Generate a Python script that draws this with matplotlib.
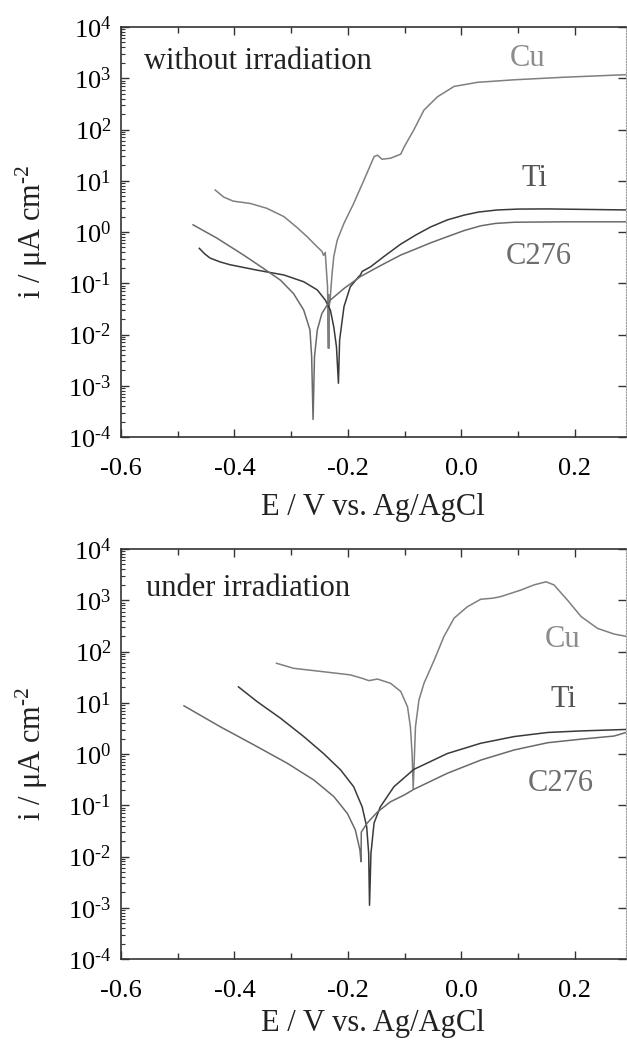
import numpy as np
import matplotlib
matplotlib.use("Agg")
import matplotlib.pyplot as plt
from matplotlib.ticker import LogLocator, MultipleLocator, FormatStrFormatter, NullFormatter, FuncFormatter

plt.rcParams['font.family'] = ['Liberation Serif', 'DejaVu Serif']
plt.rcParams['mathtext.fontset'] = 'custom'
plt.rcParams['mathtext.rm'] = 'Liberation Serif'
plt.rcParams['mathtext.it'] = 'Liberation Serif:italic'
plt.rcParams['axes.unicode_minus'] = False

# === Data: potential E (V vs. Ag/AgCl) and current density i (uA cm^-2) ===
# without irradiation
cu_dark_E = [-0.434, -0.419, -0.402, -0.372, -0.343, -0.313, -0.290, -0.272, -0.254, -0.246,
             -0.243, -0.240, -0.238, -0.236, -0.2345, -0.2340, -0.2335, -0.2330, -0.2315,
             -0.228, -0.225, -0.219, -0.207, -0.190, -0.172, -0.154, -0.148, -0.140, -0.125,
             -0.107, -0.101, -0.084, -0.066, -0.042, -0.013, 0.028, 0.093, 0.181, 0.269, 0.293]
cu_dark_i = [6.6, 4.8, 4.0, 3.6, 2.9, 2.0, 1.23, 0.81, 0.51, 0.42,
             0.35, 0.40, 0.18, 0.085, 0.0054, 0.06, 0.0054, 0.035, 0.047,
             0.155, 0.33, 0.69, 1.48, 3.6, 10.2, 29.5, 31.6, 26.3, 27.5,
             33.0, 45.7, 98.0, 240.0, 437.0, 692.0, 832.0, 933.0, 1047.0, 1148.0, 1175.0]

ti_dark_E = [-0.462, -0.452, -0.443, -0.425, -0.408, -0.360, -0.313, -0.278, -0.254, -0.240,
             -0.231, -0.225, -0.2203, -0.2168, -0.2147, -0.207, -0.196, -0.181, -0.178, -0.175,
             -0.160, -0.137, -0.107, -0.080, -0.054, -0.025, 0.005, 0.030, 0.063, 0.100,
             0.152, 0.293]
ti_dark_i = [0.48, 0.37, 0.31, 0.26, 0.23, 0.18, 0.145, 0.107, 0.074, 0.047,
             0.030, 0.014, 0.0058, 0.00112, 0.0078, 0.035, 0.085, 0.135, 0.145, 0.17,
             0.21, 0.33, 0.58, 0.88, 1.26, 1.72, 2.14, 2.45, 2.69, 2.80,
             2.82, 2.69]

c276_dark_E = [-0.473, -0.431, -0.384, -0.349, -0.319, -0.296, -0.278, -0.267, -0.264, -0.2615,
               -0.259, -0.254, -0.246, -0.231, -0.207, -0.178, -0.143, -0.107, -0.084, -0.055,
               -0.025, 0.005, 0.034, 0.060, 0.093, 0.181, 0.293]
c276_dark_i = [1.38, 0.76, 0.355, 0.195, 0.115, 0.063, 0.030, 0.0123, 0.0037, 0.00022,
               0.0037, 0.0123, 0.0257, 0.047, 0.079, 0.135, 0.22, 0.355, 0.45, 0.61,
               0.81, 1.07, 1.32, 1.47, 1.55, 1.58, 1.58]

# under irradiation
cu_irr_E = [-0.326, -0.296, -0.249, -0.196, -0.175, -0.163, -0.148, -0.125, -0.107, -0.095,
            -0.090, -0.087, -0.085, -0.081, -0.075, -0.066, -0.048, -0.031, -0.013, 0.010,
            0.034, 0.055, 0.069, 0.105, 0.128, 0.149, 0.163, 0.187, 0.211, 0.240, 0.269, 0.293]
cu_irr_i = [59.0, 47.0, 41.0, 35.0, 30.0, 27.0, 29.0, 24.0, 16.6, 8.3,
            3.4, 1.02, 0.21, 3.4, 11.2, 24.0, 68.0, 195.0, 447.0, 741.0,
            1047.0, 1096.0, 1175.0, 1585.0, 1995.0, 2291.0, 1995.0, 1000.0, 479.0, 282.0, 219.0, 195.0]

ti_irr_E = [-0.393, -0.360, -0.319, -0.278, -0.243, -0.213, -0.190, -0.175, -0.167, -0.1635,
            -0.162, -0.1595, -0.154, -0.143, -0.119, -0.084, -0.025, 0.034, 0.093, 0.152,
            0.211, 0.293]
ti_irr_i = [20.4, 10.5, 5.0, 2.19, 1.02, 0.49, 0.23, 0.093, 0.038, 0.0115,
            0.00112, 0.0115, 0.045, 0.093, 0.23, 0.50, 1.02, 1.62, 2.19, 2.63,
            2.82, 3.02]

c276_irr_E = [-0.489, -0.425, -0.366, -0.307, -0.260, -0.225, -0.201, -0.187, -0.179, -0.177,
              -0.1765, -0.166, -0.148, -0.125, -0.101, -0.084, -0.025, 0.034, 0.093, 0.152,
              0.211, 0.269, 0.293]
c276_irr_i = [8.7, 3.4, 1.51, 0.66, 0.31, 0.148, 0.069, 0.033, 0.0135, 0.0079,
              0.030, 0.045, 0.074, 0.117, 0.158, 0.204, 0.42, 0.76, 1.20, 1.66,
              1.95, 2.24, 2.69]

panels = [
    ("without irradiation", (cu_dark_E, cu_dark_i), (ti_dark_E, ti_dark_i), (c276_dark_E, c276_dark_i)),
    ("under irradiation", (cu_irr_E, cu_irr_i), (ti_irr_E, ti_irr_i), (c276_irr_E, c276_irr_i)),
]

# label positions (E, i) per panel: Cu, Ti, C276, title
label_pos = [
    [(0.117, 10**3.38), (0.129, 10**1.05), (0.136, 10**-0.47), (-0.559, 10**3.32)],
    [(0.179, 10**2.24), (0.179, 10**1.07), (0.175, 10**-0.57), (-0.556, 10**3.22)],
]

line_colors = {'Cu': '#7f7f7f', 'Ti': '#3a3a3a', 'C276': '#6a6a6a'}
text_colors = {'Cu': '#8c8c8c', 'Ti': '#555555', 'C276': '#6e6e6e'}


def decade_label(v, pos):
    # hyphen in the exponent, as in the original figure
    return r'$10^{\text{%d}}$' % int(round(np.log10(v)))


# === Figure ===
fig = plt.figure(figsize=(6.27, 10.41), dpi=100)
ax_rects = [[121/627, 1 - 437/1041, 505/627, 410/1041],
            [121/627, 1 - 959/1041, 505/627, 410/1041]]
ylabel_y = [1 - 232/1041, 1 - 754/1041]
xlabel_y = [1 - 507/1041, 1 - 1024/1041]

for k, (title, cu, ti, c276) in enumerate(panels):
    ax = fig.add_axes(ax_rects[k])
    ax.plot(cu[0], cu[1], color=line_colors['Cu'], lw=1.1)
    ax.plot(ti[0], ti[1], color=line_colors['Ti'], lw=1.1)
    ax.plot(c276[0], c276[1], color=line_colors['C276'], lw=1.1)

    ax.set_yscale('log')
    ax.set_ylim(1e-4, 1e4)
    ax.set_xlim(-0.6, 0.29)

    ax.xaxis.set_major_locator(MultipleLocator(0.2))
    ax.xaxis.set_minor_locator(MultipleLocator(0.1))
    ax.xaxis.set_major_formatter(FormatStrFormatter('%.1f'))
    ax.yaxis.set_major_locator(LogLocator(base=10, numticks=20))
    ax.yaxis.set_major_formatter(FuncFormatter(decade_label))
    ax.yaxis.set_minor_locator(LogLocator(base=10, subs=np.arange(2, 10), numticks=20))
    ax.yaxis.set_minor_formatter(NullFormatter())

    ax.tick_params(axis='both', which='major', direction='in', labelsize=19,
                   width=1.0, color='#333333')
    ax.tick_params(axis='x', which='major', length=6, top=True, pad=15)
    ax.tick_params(axis='x', which='minor', direction='in', length=4, top=True, width=1.0,
                   color='#333333')
    ax.tick_params(axis='y', which='major', length=6, right=True, pad=7)
    ax.tick_params(axis='y', which='minor', direction='in', length=3, left=True, right=False,
                   width=0.8, color='#333333')

    for side in ['left', 'bottom', 'top']:
        ax.spines[side].set_color('#333333')
        ax.spines[side].set_linewidth(1.2)
    ax.spines['right'].set_color('#9a9a9a')
    ax.spines['right'].set_linewidth(0.8)
    ax.spines['right'].set_linestyle((0, (1, 1.5)))

    pos = label_pos[k]
    ax.text(pos[0][0], pos[0][1], 'Cu', color=text_colors['Cu'], fontsize=22, ha='center', va='center')
    ax.text(pos[1][0], pos[1][1], 'Ti', color=text_colors['Ti'], fontsize=22, ha='center', va='center')
    ax.text(pos[2][0], pos[2][1], 'C276', color=text_colors['C276'], fontsize=22, ha='center', va='center')
    ax.text(pos[3][0], pos[3][1], title, color='#222222', fontsize=22, ha='left', va='center')

    fig.text(32/627, ylabel_y[k], r'i / $\mathrm{\mu}$A cm$^{\text{-2}}$', rotation=90, fontsize=22,
             ha='center', va='center', color='#222222')
    fig.text(373/627, xlabel_y[k], 'E / V vs. Ag/AgCl', fontsize=22, ha='center', va='center',
             color='#222222')

fig.savefig('out.png', dpi=100)
